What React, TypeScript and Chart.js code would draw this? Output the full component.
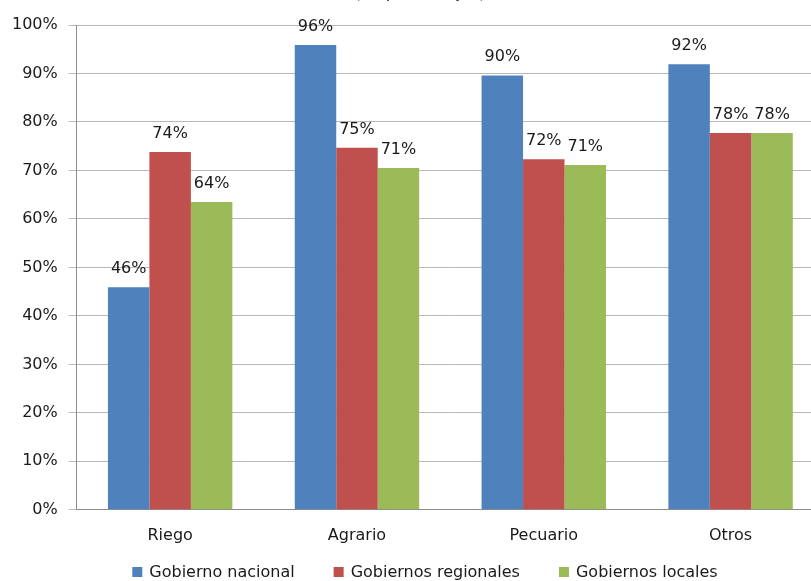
import React, { useEffect, useRef } from "react";
import { Chart, registerables } from "chart.js";

Chart.register(...registerables);

const categories = ["Riego", "Agrario", "Pecuario", "Otros"];
const seriesNames = ["Gobierno nacional", "Gobiernos regionales", "Gobiernos locales"];
const nacional = [45.9, 95.9, 89.6, 91.9];
const regionales = [73.8, 74.7, 72.3, 77.7];
const locales = [63.5, 70.5, 71.1, 77.7];
const colors = ["#4F81BD", "#C0504D", "#9BBB59"];
const yTicks = [0, 10, 20, 30, 40, 50, 60, 70, 80, 90, 100];
const titleText = "(en porcentajes)";

const FONT = "'DejaVu Sans', sans-serif";
const FS = 16;

const valueLabels = {
  id: "valueLabels",
  afterDatasetsDraw(chart: any) {
    const ctx = chart.ctx;
    ctx.save();
    ctx.font = `${FS}px ${FONT}`;
    ctx.fillStyle = "#1a1a1a";
    ctx.textAlign = "center";
    ctx.textBaseline = "alphabetic";
    chart.data.datasets.forEach((ds: any, di: number) => {
      const meta = chart.getDatasetMeta(di);
      meta.data.forEach((bar: any, i: number) => {
        const v = ds.data[i];
        ctx.fillText(Math.round(v) + "%", bar.x, bar.y - 14);
      });
    });
    ctx.restore();
  },
};

const customLegend = {
  id: "customLegend",
  afterDraw(chart: any) {
    const ctx = chart.ctx;
    ctx.save();
    ctx.font = `${FS}px ${FONT}`;
    ctx.textBaseline = "middle";
    ctx.textAlign = "left";
    const box = 10;
    const gap = 7;
    const itemGap = 39;
    const items = chart.data.datasets.map((d: any) => ({
      text: d.label,
      color: d.backgroundColor,
      w: box + gap + ctx.measureText(d.label).width,
    }));
    const total = items.reduce((s: number, it: any) => s + it.w, 0) + itemGap * (items.length - 1);
    let x = 425 - total / 2;
    const y = 572;
    items.forEach((it: any) => {
      ctx.fillStyle = it.color;
      ctx.fillRect(x, y - box / 2, box, box);
      ctx.fillStyle = "#1a1a1a";
      ctx.fillText(it.text, x + box + gap, y + 1);
      x += it.w + itemGap;
    });
    // partially visible title at the top
    ctx.textAlign = "center";
    ctx.textBaseline = "alphabetic";
    ctx.fillText(titleText, 420, -2);
    ctx.restore();
  },
};

export default function App() {
  const ref = useRef<HTMLCanvasElement>(null);
  useEffect(() => {
    if (!ref.current) return;
    const chart = new Chart(ref.current, {
      type: "bar",
      data: {
        labels: categories,
        datasets: [nacional, regionales, locales].map((d, i) => ({
          label: seriesNames[i],
          data: d,
          backgroundColor: colors[i],
          borderWidth: 0,
          categoryPercentage: 0.666,
          barPercentage: 1,
        })),
      },
      options: {
        animation: false,
        responsive: false,
        maintainAspectRatio: false,
        layout: { padding: { left: 1, top: 25, right: 2, bottom: 28 } },
        plugins: {
          legend: { display: false },
          tooltip: { enabled: false },
          title: { display: false },
        },
        scales: {
          x: {
            grid: { display: false },
            border: { display: true, color: "#8c8c8c" },
            ticks: { font: { family: FONT, size: FS }, color: "#1a1a1a", padding: 8 },
          },
          y: {
            min: 0,
            max: 100,
            afterBuildTicks: (axis: any) => {
              axis.ticks = yTicks.map((v) => ({ value: v }));
            },
            grid: { color: "#b8b8b8", tickColor: "#b8b8b8", tickLength: 8, lineWidth: 1 },
            border: { display: true, color: "#8c8c8c" },
            ticks: {
              font: { family: FONT, size: FS },
              color: "#1a1a1a",
              padding: 11,
              callback: (v: any) => v + "%",
            },
          },
        },
      },
      plugins: [valueLabels, customLegend],
    });
    return () => chart.destroy();
  }, []);
  return (
    <div style={{ position: "absolute", left: 0, top: 0, width: 811, height: 581, overflow: "hidden", background: "#fff" }}>
      <canvas ref={ref} width={826} height={581} style={{ display: "block" }} />
    </div>
  );
}
